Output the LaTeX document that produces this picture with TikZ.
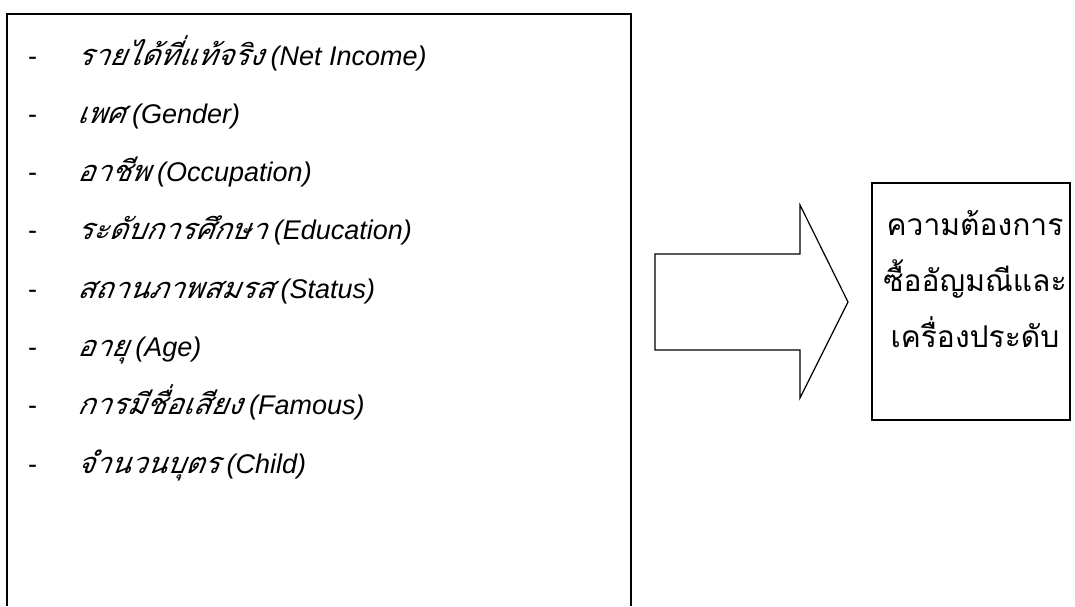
\documentclass[tikz,border=0pt]{standalone}
\usepackage{fontspec}
\setmainfont{Liberation Sans}
\newfontfamily\thaifont[Script=Thai]{Loma}
\newfontfamily\thaiit[Script=Thai,FakeSlant=0.2]{Loma}

\tikzset{
    frame/.style={draw=black, line width=2pt},
    dashmark/.style={anchor=base west, inner sep=0pt, font=\fontsize{27}{30}\selectfont},
    factor/.style={anchor=base west, inner sep=0pt, font=\fontsize{27}{30}\selectfont\itshape},
}

\begin{document}
\begin{tikzpicture}[x=1pt, y=-1pt]
    \useasboundingbox (0,0) rectangle (1075,606);

    % box of factors, open at the bottom
    \draw[frame] (7,606) -- (7,14) -- (631,14) -- (631,606);

    \foreach \thai/\eng [count=\i] in {%
        รายได้ที่แท้จริง/Net Income,
        เพศ/Gender,
        อาชีพ/Occupation,
        ระดับการศึกษา/Education,
        สถานภาพสมรส/Status,
        อายุ/Age,
        การมีชื่อเสียง/Famous,
        จำนวนบุตร/Child} {
        \node[dashmark] (dash\i) at (28, 6.7+58.3*\i) {-};
        \node[factor] (factor\i) at (77, 6.7+58.3*\i) {{\thaiit\fontsize{29}{30}\selectfont \thai} (\eng)};
    }

    % block arrow
    \draw[line width=1.2pt, line join=miter] (655,254) -- (800,254) -- (800,205) -- (848,302)
        -- (800,398) -- (800,350) -- (655,350) -- cycle;

    \node[frame, minimum width=198pt, minimum height=237pt] (needbox) at (971,301.5) {};
    \node[align=center, font=\thaifont\fontsize{30}{56}\selectfont] (need) at (975,279)
        {ความต้องการ\\ซื้ออัญมณีและ\\เครื่องประดับ};
\end{tikzpicture}
\end{document}
